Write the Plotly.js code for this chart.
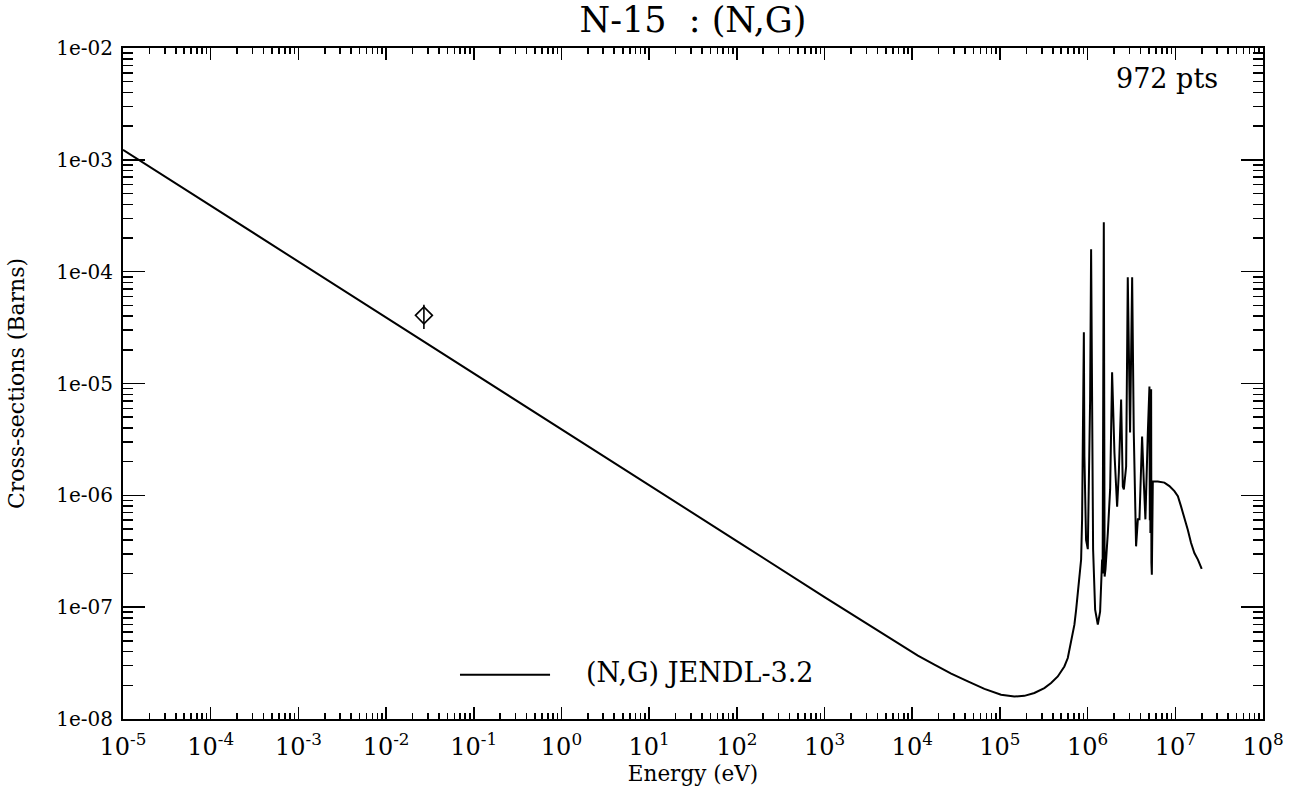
<!DOCTYPE html>
<html><head><meta charset="utf-8">
<script src="https://cdn.plot.ly/plotly-3.0.1.min.js"></script>
<style>html,body{margin:0;padding:0;background:#fff}#chart{width:1297px;height:792px}</style>
</head><body><div id="chart"></div>
<script>
// Evaluated cross-section (JENDL-3.2), energy in eV, cross-section in barns
const energy = [1e-5, 1e-4, 1e-3, 1e-2, 1e-1, 1, 10, 100, 1e3, 1e4,
  1.16e4, 1.79e4, 2.78e4, 4.31e4, 6.66e4, 1.03e5, 1.46e5, 1.90e5, 2.47e5, 3.21e5, 3.83e5, 4.57e5,
  5.43e5, 5.94e5, 6.48e5, 7.07e5, 7.4e5, 7.73e5, 8.06e5, 8.43e5, 8.65e5,
  8.77e5, 9.06e5, 9.19e5, 9.6e5, 1.005e6, 1.068e6, 1.096e6, 1.125e6, 1.155e6, 1.218e6, 1.307e6,
  1.388e6, 1.463e6, 1.483e6, 1.53e6, 1.563e6, 1.6e6, 1.70e6, 1.806e6, 1.902e6, 2.022e6,
  2.17e6, 2.27e6, 2.41e6, 2.52e6, 2.59e6, 2.75e6, 2.87e6, 3.05e6, 3.22e6, 3.36e6, 3.57e6,
  3.74e6, 3.90e6, 4.18e6, 4.37e6, 4.56e6, 4.86e6, 5.07e6, 5.12e6, 5.17e6, 5.20e6, 5.26e6, 5.30e6,
  5.34e6, 5.40e6, 5.54e6,
  5.69e6, 6.31e6, 7.51e6, 8.57e6, 9.77e6, 1.07e7, 1.16e7, 1.27e7, 1.39e7, 1.51e7, 1.65e7, 1.81e7, 2.0e7];
const xs = [1.23e-3, 3.9e-4, 1.23e-4, 3.9e-5, 1.23e-5, 3.9e-6, 1.23e-6, 3.9e-7, 1.23e-7, 3.95e-8,
  3.68e-8, 3.06e-8, 2.55e-8, 2.17e-8, 1.86e-8, 1.65e-8, 1.59e-8, 1.61e-8, 1.71e-8, 1.89e-8, 2.1e-8, 2.40e-8,
  2.95e-8, 3.51e-8, 4.78e-8, 6.97e-8, 9.5e-8, 1.34e-7, 1.89e-7, 2.66e-7, 6.1e-7,
  1.7e-6, 2.87e-5, 2.24e-6, 4.0e-7, 3.3e-7, 7.2e-6, 1.59e-4, 1.38e-6, 3.3e-7, 9.5e-8, 7.0e-8,
  9.1e-8, 2.66e-7, 2.0e-7, 2.77e-4, 1.88e-7, 2.2e-7, 4.6e-7, 1.13e-6, 1.26e-5, 2.42e-6,
  7.9e-7, 1.6e-6, 7.2e-6, 1.2e-6, 1.13e-6, 1.81e-6, 8.9e-5, 3.65e-6, 8.9e-5, 3.65e-6, 3.5e-7,
  6.1e-7, 6.1e-7, 3.36e-6, 1.33e-6, 6.1e-7, 3.65e-6, 9.4e-6, 6.0e-7, 8.0e-6, 4.6e-7, 3.0e-6, 8.9e-6,
  2.5e-7, 1.95e-7, 1.33e-6,
  1.33e-6, 1.33e-6, 1.30e-6, 1.21e-6, 1.09e-6, 9.8e-7, 8.0e-7, 6.3e-7, 4.9e-7, 3.76e-7, 3.05e-7, 2.66e-7, 2.2e-7];

// Experimental thermal point
const expEnergy = [0.027];
const expXs = [4.07e-5];
const expErrPlus = [1.0e-5];
const expErrMinus = [1.0e-5];

const xTickVals = [1e-5, 1e-4, 1e-3, 1e-2, 1e-1, 1, 10, 100, 1e3, 1e4, 1e5, 1e6, 1e7, 1e8];
const xTickText = ['10<sup>-5</sup>', '10<sup>-4</sup>', '10<sup>-3</sup>', '10<sup>-2</sup>', '10<sup>-1</sup>',
  '10<sup>0</sup>', '10<sup>1</sup>', '10<sup>2</sup>', '10<sup>3</sup>', '10<sup>4</sup>',
  '10<sup>5</sup>', '10<sup>6</sup>', '10<sup>7</sup>', '10<sup>8</sup>'];
const yTickVals = [1e-8, 1e-7, 1e-6, 1e-5, 1e-4, 1e-3, 1e-2];
const yTickText = ['1e-08', '1e-07', '1e-06', '1e-05', '1e-04', '1e-03', '1e-02'];

const seriesName = '(N,G) JENDL-3.2';
const titleText = 'N-15  : (N,G)';
const ptsText = '972 pts';
const xTitle = 'Energy (eV)';
const yTitle = 'Cross-sections (Barns)';

const FONT = 'DejaVu Serif';

// all tick positions: decades with labels, 2..9 within each decade without labels
function allTicks(decades, labels) {
  const vals = [], text = [];
  for (let i = 0; i < decades.length; i++) {
    vals.push(decades[i]); text.push(labels[i]);
    if (i < decades.length - 1) {
      for (let m = 2; m <= 9; m++) { vals.push(m * decades[i]); text.push(''); }
    }
  }
  return {vals, text};
}
const xAll = allTicks(xTickVals, xTickText);
const yAll = allTicks(yTickVals, yTickText);

const traces = [
  {x: energy, y: xs, type: 'scatter', mode: 'lines', name: seriesName,
   line: {color: '#000', width: 2}, showlegend: false},
  {x: expEnergy, y: expXs, type: 'scatter', mode: 'markers', showlegend: false,
   xaxis: 'x2', yaxis: 'y2',
   marker: {symbol: 'diamond-open', size: 13, color: '#000', line: {width: 1.6, color: '#000'}},
   error_y: {type: 'data', symmetric: false, array: expErrPlus, arrayminus: expErrMinus,
             color: '#000', thickness: 1.6, width: 0}}
];

const XRANGE = [-5, 8], YRANGE = [-8, -2];

const layout = {
  width: 1297, height: 792,
  paper_bgcolor: '#fff', plot_bgcolor: '#fff',
  margin: {l: 123, r: 34, t: 48, b: 73},
  font: {family: FONT, color: '#000'},
  title: {text: titleText, font: {family: FONT, size: 35, color: '#000'},
          x: 0.5, xref: 'paper', xanchor: 'center', y: 0.975, yref: 'container', yanchor: 'middle'},
  // main axes: every tick (short), labels at decades
  xaxis: {
    type: 'log', range: XRANGE, autorange: false, showgrid: false, zeroline: false,
    showline: true, linecolor: '#000', linewidth: 2, mirror: 'ticks',
    ticks: 'inside', ticklen: 6, tickwidth: 1.6, tickcolor: '#000',
    tickmode: 'array', tickvals: xAll.vals, ticktext: xAll.text,
    tickfont: {family: FONT, size: 24}, ticklabelstandoff: 5,
    title: {text: xTitle, font: {family: FONT, size: 21.5}, standoff: 6}
  },
  yaxis: {
    type: 'log', range: YRANGE, autorange: false, showgrid: false, zeroline: false,
    showline: true, linecolor: '#000', linewidth: 2, mirror: 'ticks',
    ticks: 'inside', ticklen: 10, tickwidth: 1.6, tickcolor: '#000',
    tickmode: 'array', tickvals: yAll.vals, ticktext: yAll.text,
    tickfont: {family: FONT, size: 20}, ticklabelstandoff: 4,
    title: {text: yTitle, font: {family: FONT, size: 22}, standoff: 26}
  },
  // overlay axes: longer ticks at the decades
  xaxis2: {
    type: 'log', range: XRANGE, autorange: false, overlaying: 'x', side: 'bottom', anchor: 'y2',
    showgrid: false, zeroline: false, showline: false, mirror: 'ticks',
    ticks: 'inside', ticklen: 12, tickwidth: 1.6, tickcolor: '#000',
    tickmode: 'array', tickvals: xTickVals, showticklabels: false
  },
  yaxis2: {
    type: 'log', range: YRANGE, autorange: false, overlaying: 'y', side: 'left', anchor: 'x2',
    showgrid: false, zeroline: false, showline: false, mirror: 'ticks',
    ticks: 'inside', ticklen: 22, tickwidth: 1.6, tickcolor: '#000',
    tickmode: 'array', tickvals: yTickVals, showticklabels: false
  },
  shapes: [
    {type: 'line', xref: 'paper', yref: 'paper', x0: 0.2956, x1: 0.3746, y0: 0.066, y1: 0.066,
     line: {color: '#000', width: 2}}
  ],
  annotations: [
    {text: seriesName, xref: 'paper', yref: 'paper', x: 0.404, y: 0.07, xanchor: 'left', yanchor: 'middle',
     showarrow: false, font: {family: FONT, size: 27, color: '#000'}},
    {text: ptsText, xref: 'paper', yref: 'paper', x: 0.962, y: 0.955, xanchor: 'right', yanchor: 'middle',
     showarrow: false, font: {family: FONT, size: 27, color: '#000'}}
  ]
};

Plotly.newPlot('chart', traces, layout, {displayModeBar: false, staticPlot: true});
</script>
</body></html>
